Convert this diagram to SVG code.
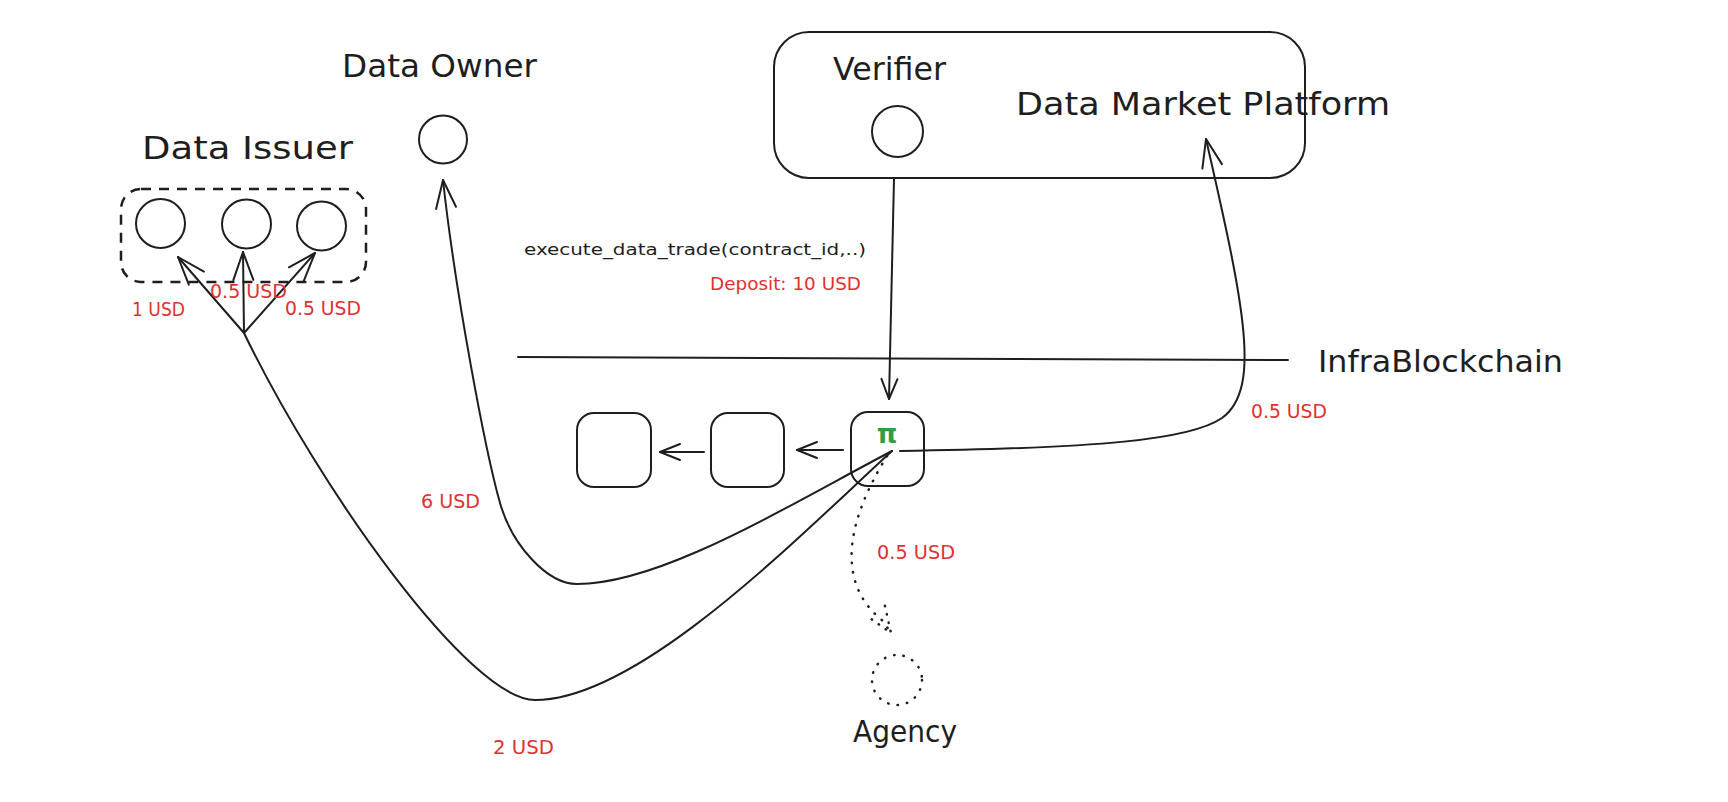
<svg xmlns="http://www.w3.org/2000/svg" width="1728" height="802" viewBox="0 0 1728 802">
<style>
  .bg { fill: #ffffff; }
  .shape { fill: none; stroke: #1e1e1e; stroke-width: 2; stroke-linecap: round; stroke-linejoin: round; }
  .dashed { fill: none; stroke: #1e1e1e; stroke-width: 2.5; stroke-dasharray: 10 8; }
  .dotted { fill: none; stroke: #1e1e1e; stroke-width: 2.5; stroke-dasharray: 0.5 9; stroke-linecap: round; }
  .edge { fill: none; stroke: #1e1e1e; stroke-width: 2; stroke-linecap: round; stroke-linejoin: round; }
  .title { font-family: "DejaVu Sans", "Liberation Sans", sans-serif; font-size: 32px; fill: #1e1e1e; }
  .label { font-family: "DejaVu Sans", "Liberation Sans", sans-serif; font-size: 19px; fill: #e03131; }
  .call { font-family: "DejaVu Sans", "Liberation Sans", sans-serif; font-size: 16px; fill: #1e1e1e; }
  .pi { font-family: "DejaVu Sans", "Liberation Sans", sans-serif; font-size: 26px; font-weight: bold; fill: #2f9e44; }
</style>
<defs>
  <marker id="ahL" viewBox="-31 -13 34 26" markerWidth="34" markerHeight="26" refX="0" refY="0" orient="auto" markerUnits="userSpaceOnUse">
    <path d="M -28 -10 L 0 0 L -28 10" fill="none" stroke="#1e1e1e" stroke-width="2" stroke-linecap="round" stroke-linejoin="round"/>
  </marker>
  <marker id="ahS" viewBox="-23 -11 26 22" markerWidth="26" markerHeight="22" refX="0" refY="0" orient="auto" markerUnits="userSpaceOnUse">
    <path d="M -20 -8 L 0 0 L -20 8" fill="none" stroke="#1e1e1e" stroke-width="2" stroke-linecap="round" stroke-linejoin="round"/>
  </marker>
  <marker id="ahD" viewBox="-31 -13 34 26" markerWidth="34" markerHeight="26" refX="0" refY="0" orient="auto" markerUnits="userSpaceOnUse">
    <path d="M -26 -10 L 0 0 L -26 10" fill="none" stroke="#1e1e1e" stroke-width="2.5" stroke-dasharray="0.5 8" stroke-linecap="round"/>
  </marker>
</defs>
<rect class="bg" x="0" y="0" width="1728" height="802"/>

<g id="data-issuer">
  <rect class="dashed" x="121" y="189" width="245" height="93" rx="20"/>
  <circle class="shape" cx="160.5" cy="223.5" r="24.5"/>
  <circle class="shape" cx="246.5" cy="224" r="24.5"/>
  <circle class="shape" cx="321.5" cy="226" r="24.5"/>
  <text class="title" x="142" y="159" textLength="211" lengthAdjust="spacingAndGlyphs">Data Issuer</text>
</g>

<g id="data-owner">
  <circle class="shape" cx="443" cy="139.5" r="24"/>
  <text class="title" x="342" y="77" textLength="195" lengthAdjust="spacingAndGlyphs">Data Owner</text>
</g>

<g id="data-market-platform">
  <rect class="shape" x="774" y="32" width="531" height="146" rx="35"/>
  <text class="title" x="1016" y="115" textLength="374" lengthAdjust="spacingAndGlyphs">Data Market Platform</text>
</g>

<g id="verifier">
  <circle class="shape" cx="897.5" cy="131.5" r="25.5"/>
  <text class="title" x="833" y="80" textLength="113" lengthAdjust="spacingAndGlyphs">Verifier</text>
</g>

<g id="infrablockchain">
  <line class="shape" x1="518" y1="357" x2="1288" y2="360"/>
  <text class="title" x="1318" y="372" style="font-size:30px" textLength="245" lengthAdjust="spacingAndGlyphs">InfraBlockchain</text>
</g>

<g id="block-1">
  <rect class="shape" x="577" y="413" width="74" height="74" rx="17"/>
</g>
<g id="block-2">
  <rect class="shape" x="711" y="413" width="73" height="74" rx="17"/>
</g>
<g id="block-pi">
  <rect class="shape" x="851" y="412" width="73" height="74" rx="17"/>
  <text class="pi" x="887" y="443" text-anchor="middle">π</text>
</g>

<g id="agency">
  <circle class="dotted" cx="897" cy="680" r="25"/>
  <text class="title" x="853" y="742" style="font-size:30px" textLength="104" lengthAdjust="spacingAndGlyphs">Agency</text>
</g>

<g id="connectors">
  <!-- verifier to pi block -->
  <path class="edge" d="M 894 179 L 889 399" marker-end="url(#ahS)"/>
  <!-- block chain arrows -->
  <path class="edge" d="M 843 450 L 797 450" marker-end="url(#ahS)"/>
  <path class="edge" d="M 704 452 L 660 452" marker-end="url(#ahS)"/>
  <!-- pi to data market platform -->
  <path class="edge" d="M 900 451 C 1100 448, 1190 440, 1222 418 C 1244 402, 1246 370, 1244 340 C 1241 290, 1222 210, 1206 139" marker-end="url(#ahL)"/>
  <!-- pi to data owner -->
  <path class="edge" d="M 892 451 C 780 510, 660 584, 577 584 C 547 584, 512 545, 500 503 C 485 450, 455 290, 443 180" marker-end="url(#ahL)"/>
  <!-- pi to data issuer fan point -->
  <path class="edge" d="M 892 451 C 800 535, 640 700, 535 700 C 470 700, 320 490, 244 333"/>
  <!-- fan to issuer circles -->
  <path class="edge" d="M 244 333 L 178 257" marker-end="url(#ahL)"/>
  <path class="edge" d="M 244 333 L 243 252" marker-end="url(#ahL)"/>
  <path class="edge" d="M 244 333 L 315 253" marker-end="url(#ahL)"/>
  <!-- pi to agency (dotted) -->
  <path class="dotted" d="M 887 456 C 860 500, 825 575, 883 621 L 891 633" marker-end="url(#ahD)"/>
</g>

<g id="labels">
  <text class="call" x="524" y="255" textLength="342" lengthAdjust="spacingAndGlyphs">execute_data_trade(contract_id,..)</text>
  <text class="label" x="710" y="290" style="font-size:18px" textLength="151" lengthAdjust="spacingAndGlyphs">Deposit: 10 USD</text>
  <text class="label" x="132" y="316" textLength="53" lengthAdjust="spacingAndGlyphs">1 USD</text>
  <text class="label" x="210" y="298" textLength="77" lengthAdjust="spacingAndGlyphs">0.5 USD</text>
  <text class="label" x="285" y="315" textLength="76" lengthAdjust="spacingAndGlyphs">0.5 USD</text>
  <text class="label" x="1251" y="418" textLength="76" lengthAdjust="spacingAndGlyphs">0.5 USD</text>
  <text class="label" x="421" y="508" textLength="59" lengthAdjust="spacingAndGlyphs">6 USD</text>
  <text class="label" x="877" y="559" textLength="78" lengthAdjust="spacingAndGlyphs">0.5 USD</text>
  <text class="label" x="493" y="754" textLength="61" lengthAdjust="spacingAndGlyphs">2 USD</text>
</g>
</svg>
